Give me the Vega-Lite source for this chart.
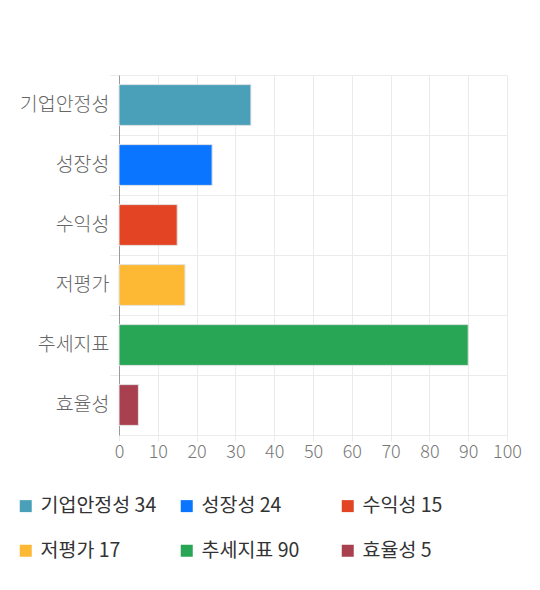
{
  "$schema": "https://vega.github.io/schema/vega-lite/v6.json",
  "width": 388,
  "height": 360,
  "autosize": {"type": "none"},
  "padding": {"left": 119, "top": 75, "right": 33, "bottom": 155},
  "background": "#ffffff",
  "config": {
    "view": {"stroke": null},
    "font": "Noto Sans CJK KR"
  },
  "data": {
    "values": [
      {"category": "기업안정성", "value": 34, "legend": "기업안정성 34"},
      {"category": "성장성", "value": 24, "legend": "성장성 24"},
      {"category": "수익성", "value": 15, "legend": "수익성 15"},
      {"category": "저평가", "value": 17, "legend": "저평가 17"},
      {"category": "추세지표", "value": 90, "legend": "추세지표 90"},
      {"category": "효율성", "value": 5, "legend": "효율성 5"}
    ]
  },
  "mark": {"type": "bar", "height": {"band": 0.68}, "stroke": "#e3e3e3", "strokeWidth": 1},
  "encoding": {
    "y": {
      "field": "category",
      "type": "nominal",
      "sort": null,
      "title": null,
      "scale": {"paddingInner": 0, "paddingOuter": 0},
      "axis": {
        "bandPosition": 0,
        "grid": true,
        "gridColor": "#ebebeb",
        "domainColor": "#999999",
        "tickColor": "#ebebeb",
        "tickSize": 9,
        "labelFontSize": 19.5,
        "labelFontWeight": 300,
        "labelColor": "#666666",
        "labelPadding": 1,
        "labelBound": false
      }
    },
    "x": {
      "field": "value",
      "type": "quantitative",
      "title": null,
      "scale": {"domain": [0, 100], "nice": false},
      "axis": {
        "values": [0, 10, 20, 30, 40, 50, 60, 70, 80, 90, 100],
        "grid": true,
        "gridColor": "#ebebeb",
        "domainColor": "#ebebeb",
        "tickColor": "#ebebeb",
        "tickSize": 6,
        "labelFontSize": 18,
        "labelFontWeight": 300,
        "labelColor": "#777777",
        "labelPadding": 2,
        "labelFlush": false
      }
    },
    "color": {
      "field": "legend",
      "type": "nominal",
      "title": null,
      "scale": {
        "domain": ["기업안정성 34", "성장성 24", "수익성 15", "저평가 17", "추세지표 90", "효율성 5"],
        "range": ["#4aa0b9", "#0a76ff", "#e34524", "#fdb933", "#28a656", "#a8404f"]
      },
      "legend": {
        "orient": "none",
        "legendX": -103,
        "legendY": 421,
        "direction": "horizontal",
        "columns": 3,
        "gridAlign": "all",
        "columnPadding": 20,
        "rowPadding": 24,
        "symbolType": "square",
        "symbolSize": 144,
        "symbolStrokeWidth": 0,
        "labelFontSize": 19.5,
        "labelColor": "#333333",
        "labelOffset": 5
      }
    }
  }
}
